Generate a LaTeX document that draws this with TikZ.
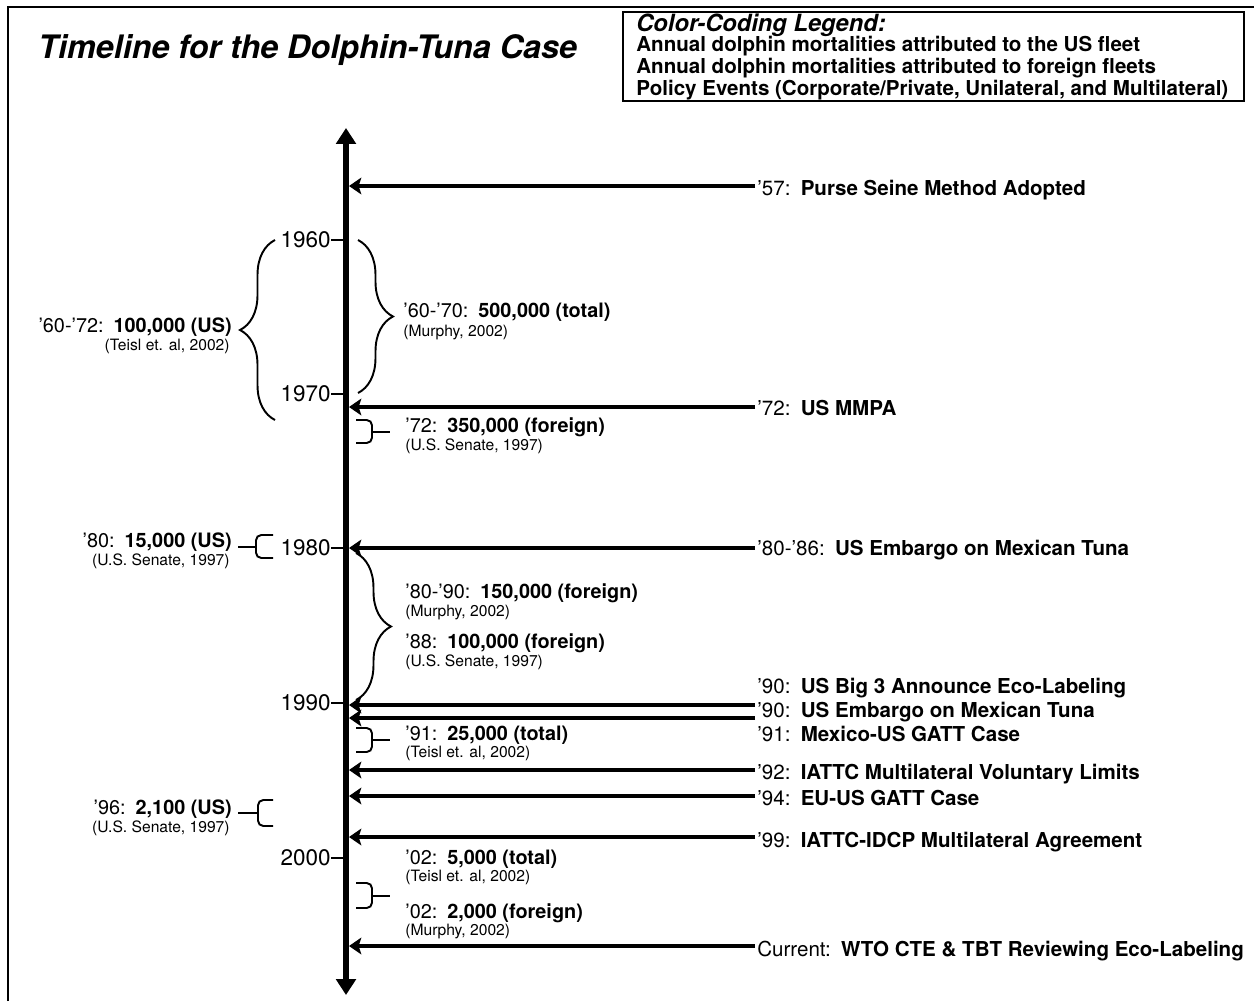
\documentclass[tikz,border=0pt]{standalone}
\usepackage{fontspec}
\setmainfont{TeX Gyre Heros}
\usepackage{tikz}
\usetikzlibrary{arrows.meta, decorations.pathreplacing}

\begin{document}
\begin{tikzpicture}[
  x=0.02cm, y=-0.02cm,
  titlelbl/.style={anchor=base west, inner sep=0pt, font=\fontsize{18.4}{20}\selectfont\bfseries\itshape},
  legtitle/.style={anchor=base west, inner sep=0pt, font=\fontsize{13.5}{15}\selectfont\bfseries\itshape},
  legline/.style={anchor=base west, inner sep=0pt, font=\fontsize{11.7}{13}\selectfont\bfseries},
  yearlbl/.style={anchor=east, inner sep=0pt, font=\fontsize{12.8}{14}\selectfont},
  evlbl/.style={anchor=base west, inner sep=0pt, font=\fontsize{11.7}{13}\selectfont},
  countlbl/.style={inner sep=0pt, font=\fontsize{11.3}{13}\selectfont},
  citelbl/.style={inner sep=0pt, font=\fontsize{8.9}{10}\selectfont},
  axisline/.style={line width=3.4pt, {Triangle[length=9pt, width=11pt]}-{Triangle[length=9pt, width=11pt]}},
  evarrow/.style={line width=2.6pt, -{Stealth[length=7pt, width=9.5pt, inset=1.5pt]}},
  yeartick/.style={line width=1.6pt},
  bigbrace/.style={line width=1.1pt, decorate, decoration={brace, amplitude=0.7cm}},
  bracket/.style={line width=1.1pt, rounded corners=3pt},
]
  \useasboundingbox (0,0) rectangle (1254,1001);

  % frame and title
  \draw[line width=1.2pt] (8,1001) -- (8,7) -- (1254,7);
  \node[titlelbl] (title) at (38,58) {Timeline for the Dolphin-Tuna Case};

  % legend
  \draw[line width=1.2pt] (623,12) rectangle (1244,101);
  \node[legtitle] (legtitle) at (636,31) {Color-Coding Legend:};
  \node[legline] (leg1) at (636,51) {Annual dolphin mortalities attributed to the US fleet};
  \node[legline] (leg2) at (636,73) {Annual dolphin mortalities attributed to foreign fleets};
  \node[legline] (leg3) at (636,95) {Policy Events (Corporate/Private, Unilateral, and Multilateral)};

  % time axis
  \coordinate (axtop) at (346,128);
  \coordinate (axbot) at (346,995);
  \coordinate (axedge) at (349,128);
  \draw[axisline] (axbot) -- (axtop);

  % years
  \node[yearlbl] (y1960) at (331,240) {1960};
  \node[yearlbl] (y1970) at (331,394) {1970};
  \node[yearlbl] (y1980) at (331,548) {1980};
  \node[yearlbl] (y1990) at (331,703) {1990};
  \node[yearlbl] (y2000) at (331,858) {2000};
  \draw[yeartick] (y1960.east) -- (y1960.east -| axtop);
  \draw[yeartick] (y1970.east) -- (y1970.east -| axtop);
  \draw[yeartick] (y1980.east) -- (y1980.east -| axtop);
  \draw[yeartick] (y1990.east) -- (y1990.east -| axtop);
  \draw[yeartick] (y2000.east) -- (y2000.east -| axtop);

  % policy events
  \node[evlbl] (e57) at (757,195) {'57:\enspace\textbf{Purse Seine Method Adopted}};
  \node[evlbl] (e72) at (757,415) {'72:\enspace\textbf{US MMPA}};
  \node[evlbl] (e80) at (757,555) {'80-'86:\enspace\textbf{US Embargo on Mexican Tuna}};
  \node[evlbl] (e90a) at (757,693) {'90:\enspace\textbf{US Big 3 Announce Eco-Labeling}};
  \node[evlbl] (e90b) at (757,717) {'90:\enspace\textbf{US Embargo on Mexican Tuna}};
  \node[evlbl] (e91) at (757,741) {'91:\enspace\textbf{Mexico-US GATT Case}};
  \node[evlbl] (e92) at (757,779) {'92:\enspace\textbf{IATTC Multilateral Voluntary Limits}};
  \node[evlbl] (e94) at (757,805) {'94:\enspace\textbf{EU-US GATT Case}};
  \node[evlbl] (e99) at (757,847) {'99:\enspace\textbf{IATTC-IDCP Multilateral Agreement}};
  \node[evlbl] (enow) at (757,956) {Current:\enspace\textbf{WTO CTE \& TBT Reviewing Eco-Labeling}};

  \coordinate (s57) at (755,186);
  \coordinate (s72) at (755,407);
  \coordinate (s80) at (755,548);
  \coordinate (s90a) at (755,705);
  \coordinate (s90b) at (755,718);
  \coordinate (s92) at (755,770);
  \coordinate (s94) at (755,796);
  \coordinate (s99) at (755,837);
  \coordinate (snow) at (755,946);
  \draw[evarrow] (s57) -- (s57 -| axedge);
  \draw[evarrow] (s72) -- (s72 -| axedge);
  \draw[evarrow] (s80) -- (s80 -| axedge);
  \draw[evarrow] (s90a) -- (s90a -| axedge);
  \draw[evarrow] (s90b) -- (s90b -| axedge);
  \draw[evarrow] (s92) -- (s92 -| axedge);
  \draw[evarrow] (s94) -- (s94 -| axedge);
  \draw[evarrow] (s99) -- (s99 -| axedge);
  \draw[evarrow] (snow) -- (snow -| axedge);

  % mortalities, left of the axis
  \draw[bigbrace] (275,420) -- (275,240);
  \node[countlbl, anchor=base east] (m6072) at (232,332) {'60-'72:\enspace\textbf{100,000 (US)}};
  \node[citelbl, anchor=base east] (c6072) at (230,350) {(Teisl et. al, 2002)};

  \draw[bracket] (273,535) -- (256,535) -- (256,558) -- (273,558);
  \draw[bracket] (256,547) -- (238,547);
  \node[countlbl, anchor=base east] (m80) at (232,547) {'80:\enspace\textbf{15,000 (US)}};
  \node[citelbl, anchor=base east] (c80) at (230,565) {(U.S. Senate, 1997)};

  \draw[bracket] (273,800) -- (258,800) -- (258,826) -- (273,826);
  \draw[bracket] (258,813) -- (238,813);
  \node[countlbl, anchor=base east] (m96) at (232,814) {'96:\enspace\textbf{2,100 (US)}};
  \node[citelbl, anchor=base east] (c96) at (230,832) {(U.S. Senate, 1997)};

  % mortalities, right of the axis
  \draw[bigbrace] (358,240) -- (358,393);
  \node[countlbl, anchor=base west] (m6070) at (403,317) {'60-'70:\enspace\textbf{500,000 (total)}};
  \node[citelbl, anchor=base west] (c6070) at (403,336) {(Murphy, 2002)};

  \draw[bracket] (356,420) -- (372,420) -- (372,443) -- (356,443);
  \draw[bracket] (372,432) -- (390,432);
  \node[countlbl, anchor=base west] (m72) at (405,432) {'72:\enspace\textbf{350,000 (foreign)}};
  \node[citelbl, anchor=base west] (c72) at (405,450) {(U.S. Senate, 1997)};

  \draw[bigbrace] (356,553) -- (356,700);
  \node[countlbl, anchor=base west] (m8090) at (405,598) {'80-'90:\enspace\textbf{150,000 (foreign)}};
  \node[citelbl, anchor=base west] (c8090) at (405,616) {(Murphy, 2002)};
  \node[countlbl, anchor=base west] (m88) at (405,648) {'88:\enspace\textbf{100,000 (foreign)}};
  \node[citelbl, anchor=base west] (c88) at (405,666) {(U.S. Senate, 1997)};

  \draw[bracket] (356,728) -- (372,728) -- (372,752) -- (356,752);
  \draw[bracket] (372,740) -- (390,740);
  \node[countlbl, anchor=base west] (m91) at (405,740) {'91:\enspace\textbf{25,000 (total)}};
  \node[citelbl, anchor=base west] (c91) at (405,757) {(Teisl et. al, 2002)};

  \draw[bracket] (356,883) -- (372,883) -- (372,908) -- (356,908);
  \draw[bracket] (372,896) -- (390,896);
  \node[countlbl, anchor=base west] (m02a) at (405,864) {'02:\enspace\textbf{5,000 (total)}};
  \node[citelbl, anchor=base west] (c02a) at (405,881) {(Teisl et. al, 2002)};
  \node[countlbl, anchor=base west] (m02b) at (405,918) {'02:\enspace\textbf{2,000 (foreign)}};
  \node[citelbl, anchor=base west] (c02b) at (405,935) {(Murphy, 2002)};
\end{tikzpicture}
\end{document}
